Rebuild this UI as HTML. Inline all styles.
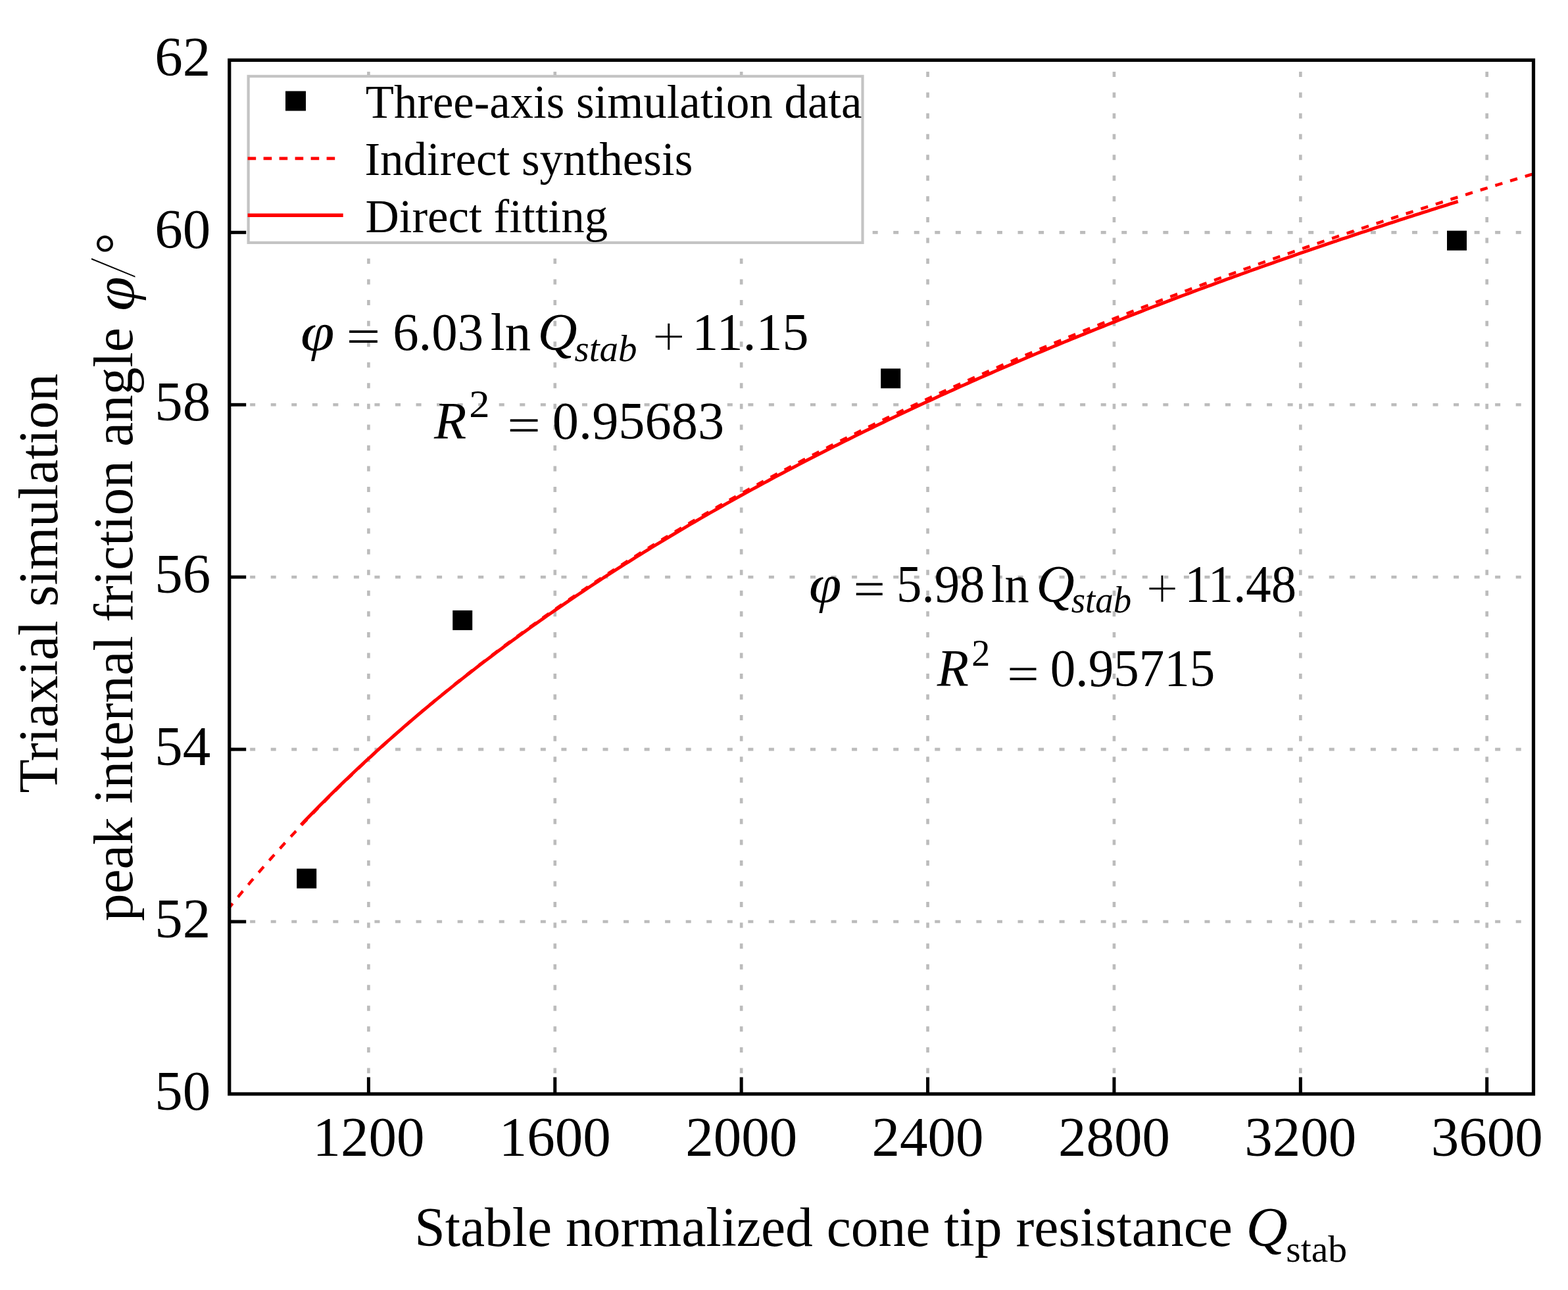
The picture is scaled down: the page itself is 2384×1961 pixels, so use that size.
<!DOCTYPE html>
<html><head><meta charset="utf-8"><title>Triaxial simulation peak internal friction angle vs Q_stab</title>
<style>
html,body{margin:0;padding:0;background:#fff;}
body{width:2384px;height:1961px;overflow:hidden;}
svg{display:block;}
text{font-family:'Liberation Serif', 'Times New Roman', serif;fill:#000;}
</style></head><body>
<svg width="2384" height="1961" viewBox="0 0 2384 1961">
<rect width="2384" height="1961" fill="#fff"/>
<line x1="560.40" y1="1663.00" x2="560.40" y2="91.40" stroke="#bcbcbc" stroke-width="4.6" stroke-dasharray="8 23.55"/>
<line x1="843.78" y1="1663.00" x2="843.78" y2="91.40" stroke="#bcbcbc" stroke-width="4.6" stroke-dasharray="8 23.55"/>
<line x1="1127.17" y1="1663.00" x2="1127.17" y2="91.40" stroke="#bcbcbc" stroke-width="4.6" stroke-dasharray="8 23.55"/>
<line x1="1410.55" y1="1663.00" x2="1410.55" y2="91.40" stroke="#bcbcbc" stroke-width="4.6" stroke-dasharray="8 23.55"/>
<line x1="1693.93" y1="1663.00" x2="1693.93" y2="91.40" stroke="#bcbcbc" stroke-width="4.6" stroke-dasharray="8 23.55"/>
<line x1="1977.32" y1="1663.00" x2="1977.32" y2="91.40" stroke="#bcbcbc" stroke-width="4.6" stroke-dasharray="8 23.55"/>
<line x1="2260.70" y1="1663.00" x2="2260.70" y2="91.40" stroke="#bcbcbc" stroke-width="4.6" stroke-dasharray="8 23.55"/>
<line x1="348.6" y1="1401.07" x2="2331.5" y2="1401.07" stroke="#bcbcbc" stroke-width="4.6" stroke-dasharray="8 23.55"/>
<line x1="348.6" y1="1139.13" x2="2331.5" y2="1139.13" stroke="#bcbcbc" stroke-width="4.6" stroke-dasharray="8 23.55"/>
<line x1="348.6" y1="877.20" x2="2331.5" y2="877.20" stroke="#bcbcbc" stroke-width="4.6" stroke-dasharray="8 23.55"/>
<line x1="348.6" y1="615.27" x2="2331.5" y2="615.27" stroke="#bcbcbc" stroke-width="4.6" stroke-dasharray="8 23.55"/>
<line x1="348.6" y1="353.33" x2="2331.5" y2="353.33" stroke="#bcbcbc" stroke-width="4.6" stroke-dasharray="8 23.55"/>
<path transform="scale(1,1.0614)" d="M347.863,1300.838 L352.822,1295.073 L357.781,1289.353 L362.740,1283.676 L367.699,1278.042 L372.659,1272.451 L377.618,1266.901 L382.577,1261.393 L387.536,1255.925 L392.495,1250.497 L397.455,1245.108 L402.414,1239.758 L407.373,1234.446 L412.332,1229.172 L417.291,1223.934 L422.251,1218.734 L427.210,1213.569 L432.169,1208.441 L437.128,1203.347 L442.088,1198.288 L447.047,1193.263 L452.006,1188.272 L456.965,1183.314 L461.924,1178.389 L466.884,1173.496 L471.843,1168.635 L476.802,1163.806 L481.761,1159.008 L486.720,1154.240 L491.680,1149.503 L496.639,1144.796 L501.598,1140.119 L506.557,1135.471 L511.516,1130.851 L516.476,1126.260 L521.435,1121.698 L526.394,1117.163 L531.353,1112.655 L536.312,1108.175 L541.272,1103.722 L546.231,1099.295 L551.190,1094.894 L556.149,1090.519 L561.108,1086.170 L566.068,1081.846 L571.027,1077.546 L575.986,1073.272 L580.945,1069.022 L585.904,1064.796 L590.864,1060.594 L595.823,1056.416 L600.782,1052.261 L605.741,1048.129 L610.701,1044.020 L615.660,1039.933 L620.619,1035.869 L625.578,1031.827 L630.537,1027.807 L635.497,1023.808 L640.456,1019.831 L645.415,1015.874 L650.374,1011.939 L655.333,1008.025 L660.293,1004.130 L665.252,1000.257 L670.211,996.403 L675.170,992.569 L680.129,988.755 L685.089,984.960 L690.048,981.185 L695.007,977.428 L699.966,973.691 L704.925,969.972 L709.885,966.271 L714.844,962.589 L719.803,958.925 L724.762,955.279 L729.721,951.651 L734.681,948.040 L739.640,944.447 L744.599,940.871 L749.558,937.312 L754.517,933.770 L759.477,930.245 L764.436,926.737 L769.395,923.245 L774.354,919.769 L779.314,916.310 L784.273,912.866 L789.232,909.439 L794.191,906.027 L799.150,902.630 L804.110,899.249 L809.069,895.884 L814.028,892.533 L818.987,889.198 L823.946,885.877 L828.906,882.571 L833.865,879.280 L838.824,876.003 L843.783,872.741 L848.742,869.493 L853.702,866.259 L858.661,863.039 L863.620,859.833 L868.579,856.641 L873.538,853.462 L878.498,850.297 L883.457,847.145 L888.416,844.006 L893.375,840.881 L898.334,837.769 L903.294,834.670 L908.253,831.583 L913.212,828.510 L918.171,825.449 L923.130,822.400 L928.090,819.364 L933.049,816.340 L938.008,813.329 L942.967,810.330 L947.927,807.342 L952.886,804.367 L957.845,801.403 L962.804,798.452 L967.763,795.512 L972.723,792.583 L977.682,789.666 L982.641,786.761 L987.600,783.866 L992.559,780.983 L997.519,778.111 L1002.478,775.250 L1007.437,772.400 L1012.396,769.561 L1017.355,766.733 L1022.315,763.915 L1027.274,761.108 L1032.233,758.312 L1037.192,755.526 L1042.151,752.750 L1047.111,749.985 L1052.070,747.230 L1057.029,744.485 L1061.988,741.751 L1066.947,739.026 L1071.907,736.311 L1076.866,733.606 L1081.825,730.911 L1086.784,728.226 L1091.744,725.550 L1096.703,722.884 L1101.662,720.227 L1106.621,717.580 L1111.580,714.942 L1116.540,712.314 L1121.499,709.694 L1126.458,707.084 L1131.417,704.484 L1136.376,701.892 L1141.336,699.309 L1146.295,696.735 L1151.254,694.170 L1156.213,691.614 L1161.172,689.066 L1166.132,686.527 L1171.091,683.997 L1176.050,681.476 L1181.009,678.963 L1185.968,676.458 L1190.928,673.962 L1195.887,671.474 L1200.846,668.994 L1205.805,666.523 L1210.764,664.060 L1215.724,661.605 L1220.683,659.158 L1225.642,656.719 L1230.601,654.288 L1235.560,651.865 L1240.520,649.450 L1245.479,647.043 L1250.438,644.643 L1255.397,642.251 L1260.357,639.867 L1265.316,637.490 L1270.275,635.121 L1275.234,632.760 L1280.193,630.406 L1285.153,628.059 L1290.112,625.720 L1295.071,623.388 L1300.030,621.063 L1304.989,618.746 L1309.949,616.436 L1314.908,614.133 L1319.867,611.837 L1324.826,609.548 L1329.785,607.266 L1334.745,604.991 L1339.704,602.723 L1344.663,600.462 L1349.622,598.208 L1354.581,595.961 L1359.541,593.720 L1364.500,591.486 L1369.459,589.259 L1374.418,587.038 L1379.377,584.824 L1384.337,582.617 L1389.296,580.416 L1394.255,578.222 L1399.214,576.034 L1404.173,573.852 L1409.133,571.677 L1414.092,569.508 L1419.051,567.346 L1424.010,565.190 L1428.970,563.040 L1433.929,560.896 L1438.888,558.758 L1443.847,556.627 L1448.806,554.502 L1453.766,552.382 L1458.725,550.269 L1463.684,548.161 L1468.643,546.060 L1473.602,543.965 L1478.562,541.875 L1483.521,539.791 L1488.480,537.713 L1493.439,535.641 L1498.398,533.575 L1503.358,531.514 L1508.317,529.459 L1513.276,527.410 L1518.235,525.366 L1523.194,523.328 L1528.154,521.296 L1533.113,519.269 L1538.072,517.247 L1543.031,515.231 L1547.990,513.221 L1552.950,511.215 L1557.909,509.216 L1562.868,507.221 L1567.827,505.232 L1572.786,503.249 L1577.746,501.270 L1582.705,499.297 L1587.664,497.329 L1592.623,495.366 L1597.583,493.408 L1602.542,491.456 L1607.501,489.509 L1612.460,487.566 L1617.419,485.629 L1622.379,483.697 L1627.338,481.770 L1632.297,479.847 L1637.256,477.930 L1642.215,476.018 L1647.175,474.110 L1652.134,472.208 L1657.093,470.310 L1662.052,468.417 L1667.011,466.529 L1671.971,464.646 L1676.930,462.767 L1681.889,460.893 L1686.848,459.024 L1691.807,457.160 L1696.767,455.300 L1701.726,453.445 L1706.685,451.594 L1711.644,449.748 L1716.603,447.907 L1721.563,446.070 L1726.522,444.238 L1731.481,442.410 L1736.440,440.587 L1741.399,438.768 L1746.359,436.953 L1751.318,435.143 L1756.277,433.338 L1761.236,431.536 L1766.196,429.739 L1771.155,427.947 L1776.114,426.159 L1781.073,424.375 L1786.032,422.595 L1790.992,420.820 L1795.951,419.048 L1800.910,417.281 L1805.869,415.518 L1810.828,413.760 L1815.788,412.005 L1820.747,410.255 L1825.706,408.509 L1830.665,406.766 L1835.624,405.028 L1840.584,403.294 L1845.543,401.564 L1850.502,399.838 L1855.461,398.116 L1860.420,396.398 L1865.380,394.684 L1870.339,392.974 L1875.298,391.267 L1880.257,389.565 L1885.216,387.867 L1890.176,386.172 L1895.135,384.481 L1900.094,382.794 L1905.053,381.111 L1910.012,379.432 L1914.972,377.756 L1919.931,376.085 L1924.890,374.417 L1929.849,372.752 L1934.809,371.092 L1939.768,369.435 L1944.727,367.782 L1949.686,366.132 L1954.645,364.487 L1959.605,362.844 L1964.564,361.206 L1969.523,359.571 L1974.482,357.939 L1979.441,356.311 L1984.401,354.687 L1989.360,353.066 L1994.319,351.449 L1999.278,349.835 L2004.237,348.225 L2009.197,346.618 L2014.156,345.015 L2019.115,343.415 L2024.074,341.819 L2029.033,340.226 L2033.993,338.636 L2038.952,337.050 L2043.911,335.467 L2048.870,333.888 L2053.829,332.312 L2058.789,330.739 L2063.748,329.169 L2068.707,327.603 L2073.666,326.040 L2078.625,324.481 L2083.585,322.924 L2088.544,321.371 L2093.503,319.821 L2098.462,318.275 L2103.422,316.731 L2108.381,315.191 L2113.340,313.654 L2118.299,312.120 L2123.258,310.589 L2128.218,309.062 L2133.177,307.537 L2138.136,306.016 L2143.095,304.498 L2148.054,302.983 L2153.014,301.471 L2157.973,299.962 L2162.932,298.456 L2167.891,296.953 L2172.850,295.453 L2177.810,293.956 L2182.769,292.462 L2187.728,290.971 L2192.687,289.483 L2197.646,287.998 L2202.606,286.516 L2207.565,285.037 L2212.524,283.561 L2217.483,282.088 L2222.442,280.618 L2227.402,279.151 L2232.361,277.686 L2237.320,276.225 L2242.279,274.766 L2247.238,273.310 L2252.198,271.857 L2257.157,270.407 L2262.116,268.960 L2267.075,267.515 L2272.035,266.073 L2276.994,264.634 L2281.953,263.198 L2286.912,261.765 L2291.871,260.334 L2296.831,258.906 L2301.790,257.481 L2306.749,256.059 L2311.708,254.639 L2316.667,253.222 L2321.627,251.807 L2326.586,250.396 L2331.545,248.987" fill="none" stroke="#ff0000" stroke-width="4.3" stroke-dasharray="11.4 12.2" stroke-dashoffset="2.36"/>
<path d="M457.67,1253.92 L463.54,1247.80 L469.40,1241.73 L475.26,1235.70 L481.13,1229.72 L486.99,1223.79 L492.86,1217.90 L498.72,1212.05 L504.58,1206.25 L510.45,1200.49 L516.31,1194.77 L522.17,1189.09 L528.04,1183.46 L533.90,1177.86 L539.76,1172.30 L545.63,1166.79 L551.49,1161.31 L557.36,1155.87 L563.22,1150.47 L569.08,1145.10 L574.95,1139.77 L580.81,1134.48 L586.67,1129.22 L592.54,1124.00 L598.40,1118.81 L604.27,1113.66 L610.13,1108.54 L615.99,1103.45 L621.86,1098.40 L627.72,1093.38 L633.58,1088.39 L639.45,1083.43 L645.31,1078.50 L651.17,1073.61 L657.04,1068.74 L662.90,1063.91 L668.77,1059.10 L674.63,1054.32 L680.49,1049.58 L686.36,1044.86 L692.22,1040.17 L698.08,1035.50 L703.95,1030.87 L709.81,1026.26 L715.68,1021.68 L721.54,1017.13 L727.40,1012.60 L733.27,1008.10 L739.13,1003.62 L744.99,999.17 L750.86,994.74 L756.72,990.34 L762.58,985.97 L768.45,981.61 L774.31,977.29 L780.18,972.98 L786.04,968.70 L791.90,964.44 L797.77,960.21 L803.63,956.00 L809.49,951.81 L815.36,947.64 L821.22,943.50 L827.08,939.38 L832.95,935.28 L838.81,931.20 L844.68,927.14 L850.54,923.10 L856.40,919.08 L862.27,915.09 L868.13,911.11 L873.99,907.15 L879.86,903.22 L885.72,899.30 L891.59,895.40 L897.45,891.53 L903.31,887.67 L909.18,883.83 L915.04,880.01 L920.90,876.20 L926.77,872.42 L932.63,868.65 L938.49,864.91 L944.36,861.18 L950.22,857.46 L956.09,853.77 L961.95,850.09 L967.81,846.43 L973.68,842.79 L979.54,839.16 L985.40,835.55 L991.27,831.96 L997.13,828.38 L1002.99,824.82 L1008.86,821.28 L1014.72,817.75 L1020.59,814.24 L1026.45,810.74 L1032.31,807.26 L1038.18,803.79 L1044.04,800.34 L1049.90,796.91 L1055.77,793.49 L1061.63,790.08 L1067.50,786.69 L1073.36,783.31 L1079.22,779.95 L1085.09,776.60 L1090.95,773.27 L1096.81,769.95 L1102.68,766.65 L1108.54,763.35 L1114.40,760.08 L1120.27,756.81 L1126.13,753.56 L1132.00,750.33 L1137.86,747.10 L1143.72,743.89 L1149.59,740.70 L1155.45,737.51 L1161.31,734.34 L1167.18,731.18 L1173.04,728.04 L1178.91,724.90 L1184.77,721.78 L1190.63,718.67 L1196.50,715.58 L1202.36,712.49 L1208.22,709.42 L1214.09,706.36 L1219.95,703.32 L1225.81,700.28 L1231.68,697.26 L1237.54,694.24 L1243.41,691.24 L1249.27,688.25 L1255.13,685.27 L1261.00,682.31 L1266.86,679.35 L1272.72,676.41 L1278.59,673.47 L1284.45,670.55 L1290.31,667.64 L1296.18,664.74 L1302.04,661.85 L1307.91,658.97 L1313.77,656.10 L1319.63,653.24 L1325.50,650.39 L1331.36,647.55 L1337.22,644.73 L1343.09,641.91 L1348.95,639.10 L1354.82,636.30 L1360.68,633.52 L1366.54,630.74 L1372.41,627.97 L1378.27,625.21 L1384.13,622.46 L1390.00,619.73 L1395.86,617.00 L1401.72,614.28 L1407.59,611.57 L1413.45,608.87 L1419.32,606.17 L1425.18,603.49 L1431.04,600.82 L1436.91,598.15 L1442.77,595.50 L1448.63,592.85 L1454.50,590.22 L1460.36,587.59 L1466.22,584.97 L1472.09,582.36 L1477.95,579.75 L1483.82,577.16 L1489.68,574.58 L1495.54,572.00 L1501.41,569.43 L1507.27,566.87 L1513.13,564.32 L1519.00,561.78 L1524.86,559.24 L1530.73,556.72 L1536.59,554.20 L1542.45,551.69 L1548.32,549.18 L1554.18,546.69 L1560.04,544.20 L1565.91,541.72 L1571.77,539.25 L1577.63,536.79 L1583.50,534.33 L1589.36,531.89 L1595.23,529.45 L1601.09,527.01 L1606.95,524.59 L1612.82,522.17 L1618.68,519.76 L1624.54,517.36 L1630.41,514.96 L1636.27,512.58 L1642.14,510.20 L1648.00,507.82 L1653.86,505.46 L1659.73,503.10 L1665.59,500.74 L1671.45,498.40 L1677.32,496.06 L1683.18,493.73 L1689.04,491.41 L1694.91,489.09 L1700.77,486.78 L1706.64,484.47 L1712.50,482.18 L1718.36,479.89 L1724.23,477.60 L1730.09,475.33 L1735.95,473.06 L1741.82,470.79 L1747.68,468.54 L1753.54,466.28 L1759.41,464.04 L1765.27,461.80 L1771.14,459.57 L1777.00,457.35 L1782.86,455.13 L1788.73,452.91 L1794.59,450.71 L1800.45,448.51 L1806.32,446.31 L1812.18,444.13 L1818.05,441.94 L1823.91,439.77 L1829.77,437.60 L1835.64,435.43 L1841.50,433.28 L1847.36,431.13 L1853.23,428.98 L1859.09,426.84 L1864.95,424.71 L1870.82,422.58 L1876.68,420.45 L1882.55,418.34 L1888.41,416.23 L1894.27,414.12 L1900.14,412.02 L1906.00,409.93 L1911.86,407.84 L1917.73,405.75 L1923.59,403.68 L1929.45,401.61 L1935.32,399.54 L1941.18,397.48 L1947.05,395.42 L1952.91,393.37 L1958.77,391.33 L1964.64,389.29 L1970.50,387.25 L1976.36,385.22 L1982.23,383.20 L1988.09,381.18 L1993.96,379.17 L1999.82,377.16 L2005.68,375.16 L2011.55,373.16 L2017.41,371.16 L2023.27,369.18 L2029.14,367.19 L2035.00,365.22 L2040.86,363.24 L2046.73,361.27 L2052.59,359.31 L2058.46,357.35 L2064.32,355.40 L2070.18,353.45 L2076.05,351.51 L2081.91,349.57 L2087.77,347.64 L2093.64,345.71 L2099.50,343.78 L2105.37,341.86 L2111.23,339.95 L2117.09,338.04 L2122.96,336.13 L2128.82,334.23 L2134.68,332.33 L2140.55,330.44 L2146.41,328.55 L2152.27,326.67 L2158.14,324.79 L2164.00,322.92 L2169.87,321.05 L2175.73,319.19 L2181.59,317.32 L2187.46,315.47 L2193.32,313.62 L2199.18,311.77 L2205.05,309.93 L2210.91,308.09 L2216.77,306.25" fill="none" stroke="#ff0000" stroke-width="5.0"/>
<rect x="451.20" y="1320.50" width="30" height="30" fill="#000"/>
<rect x="688.20" y="927.90" width="30" height="30" fill="#000"/>
<rect x="1339.20" y="560.30" width="30" height="30" fill="#000"/>
<rect x="2200.00" y="350.70" width="30" height="30" fill="#000"/>
<line x1="560.40" y1="1663" x2="560.40" y2="1637.5" stroke="#000" stroke-width="5"/>
<line x1="843.78" y1="1663" x2="843.78" y2="1637.5" stroke="#000" stroke-width="5"/>
<line x1="1127.17" y1="1663" x2="1127.17" y2="1637.5" stroke="#000" stroke-width="5"/>
<line x1="1410.55" y1="1663" x2="1410.55" y2="1637.5" stroke="#000" stroke-width="5"/>
<line x1="1693.93" y1="1663" x2="1693.93" y2="1637.5" stroke="#000" stroke-width="5"/>
<line x1="1977.32" y1="1663" x2="1977.32" y2="1637.5" stroke="#000" stroke-width="5"/>
<line x1="2260.70" y1="1663" x2="2260.70" y2="1637.5" stroke="#000" stroke-width="5"/>
<line x1="348.7" y1="1401.07" x2="374.2" y2="1401.07" stroke="#000" stroke-width="5"/>
<line x1="348.7" y1="1139.13" x2="374.2" y2="1139.13" stroke="#000" stroke-width="5"/>
<line x1="348.7" y1="877.20" x2="374.2" y2="877.20" stroke="#000" stroke-width="5"/>
<line x1="348.7" y1="615.27" x2="374.2" y2="615.27" stroke="#000" stroke-width="5"/>
<line x1="348.7" y1="353.33" x2="374.2" y2="353.33" stroke="#000" stroke-width="5"/>
<rect x="348.75" y="91.4" width="1982.75" height="1571.6" fill="none" stroke="#000" stroke-width="5.2"/>
<rect x="377.6" y="115.9" width="933.9" height="253" fill="#fff" stroke="#c4c4c4" stroke-width="4.2"/>
<rect x="434" y="138.5" width="31" height="30" fill="#000"/>
<line x1="376.6" y1="240.9" x2="509.6" y2="240.9" stroke="#ff0000" stroke-width="4.8" stroke-dasharray="12.6 11.4"/>
<line x1="376.6" y1="327.2" x2="521.7" y2="327.2" stroke="#ff0000" stroke-width="5.5"/>
<text x="555.72" y="179.00" font-size="71" textLength="754.75" lengthAdjust="spacingAndGlyphs">Three-axis simulation data</text>
<text x="554.43" y="265.80" font-size="71">Indirect synthesis</text>
<text x="555.45" y="353.20" font-size="71">Direct fitting</text>
<text x="320.3" y="1686.80" font-size="85" text-anchor="end">50</text>
<text x="320.3" y="1424.87" font-size="85" text-anchor="end">52</text>
<text x="320.3" y="1162.93" font-size="85" text-anchor="end">54</text>
<text x="320.3" y="901.00" font-size="85" text-anchor="end">56</text>
<text x="320.3" y="639.07" font-size="85" text-anchor="end">58</text>
<text x="320.3" y="377.13" font-size="85" text-anchor="end">60</text>
<text x="320.3" y="115.20" font-size="85" text-anchor="end">62</text>
<text x="560.40" y="1756.8" font-size="85" text-anchor="middle">1200</text>
<text x="843.78" y="1756.8" font-size="85" text-anchor="middle">1600</text>
<text x="1127.17" y="1756.8" font-size="85" text-anchor="middle">2000</text>
<text x="1410.55" y="1756.8" font-size="85" text-anchor="middle">2400</text>
<text x="1693.93" y="1756.8" font-size="85" text-anchor="middle">2800</text>
<text x="1977.32" y="1756.8" font-size="85" text-anchor="middle">3200</text>
<text x="2260.70" y="1756.8" font-size="85" text-anchor="middle">3600</text>
<text x="457.13" y="531.80" font-size="80" font-style="italic" textLength="51.52" lengthAdjust="spacingAndGlyphs">φ</text>
<text x="526.42" y="535.80" font-size="75.0" textLength="51.87" lengthAdjust="spacingAndGlyphs">=</text>
<text x="597.21" y="531.80" font-size="80" textLength="137.86" lengthAdjust="spacingAndGlyphs">6.03</text>
<text x="745.82" y="531.60" font-size="80" textLength="61.27" lengthAdjust="spacingAndGlyphs">ln</text>
<text x="817.61" y="531.70" font-size="80" font-style="italic" textLength="60.14" lengthAdjust="spacingAndGlyphs">Q</text>
<text x="873.50" y="548.90" font-size="58" font-style="italic" textLength="95.12" lengthAdjust="spacingAndGlyphs">stab</text>
<text x="991.64" y="540.55" font-size="88.7" textLength="50.54" lengthAdjust="spacingAndGlyphs" stroke="#fff" stroke-width="1.4">+</text>
<text x="1052.37" y="531.70" font-size="80" textLength="177.30" lengthAdjust="spacingAndGlyphs">11.15</text>
<text x="660.03" y="667.00" font-size="80" font-style="italic" textLength="49.31" lengthAdjust="spacingAndGlyphs">R</text>
<text x="713.35" y="634.00" font-size="60" textLength="31.31" lengthAdjust="spacingAndGlyphs">2</text>
<text x="771.33" y="670.90" font-size="75.0" textLength="50.66" lengthAdjust="spacingAndGlyphs">=</text>
<text x="839.84" y="667.00" font-size="80" textLength="261.30" lengthAdjust="spacingAndGlyphs">0.95683</text>
<text x="1230.14" y="914.50" font-size="80" font-style="italic" textLength="49.40" lengthAdjust="spacingAndGlyphs">φ</text>
<text x="1297.62" y="920.30" font-size="75.0" textLength="48.48" lengthAdjust="spacingAndGlyphs">=</text>
<text x="1363.03" y="914.50" font-size="80" textLength="134.49" lengthAdjust="spacingAndGlyphs">5.98</text>
<text x="1506.91" y="914.50" font-size="80" textLength="57.71" lengthAdjust="spacingAndGlyphs">ln</text>
<text x="1575.45" y="914.50" font-size="80" font-style="italic" textLength="58.25" lengthAdjust="spacingAndGlyphs">Q</text>
<text x="1628.73" y="931.40" font-size="58" font-style="italic" textLength="91.53" lengthAdjust="spacingAndGlyphs">stab</text>
<text x="1742.33" y="923.85" font-size="88.7" textLength="49.45" lengthAdjust="spacingAndGlyphs" stroke="#fff" stroke-width="1.4">+</text>
<text x="1801.27" y="914.50" font-size="80" textLength="169.81" lengthAdjust="spacingAndGlyphs">11.48</text>
<text x="1424.82" y="1042.60" font-size="80" font-style="italic" textLength="48.19" lengthAdjust="spacingAndGlyphs">R</text>
<text x="1477.33" y="1012.20" font-size="57" textLength="28.06" lengthAdjust="spacingAndGlyphs">2</text>
<text x="1531.32" y="1048.80" font-size="75.0" textLength="48.48" lengthAdjust="spacingAndGlyphs">=</text>
<text x="1596.87" y="1043.00" font-size="80" textLength="250.34" lengthAdjust="spacingAndGlyphs">0.95715</text>
<text x="630.21" y="1894.40" font-size="84" textLength="1243.69" lengthAdjust="spacingAndGlyphs">Stable normalized cone tip resistance</text>
<text x="1894.57" y="1894.40" font-size="84" font-style="italic" textLength="63.26" lengthAdjust="spacingAndGlyphs">Q</text>
<text x="1955.24" y="1917.90" font-size="58" textLength="92.75" lengthAdjust="spacingAndGlyphs">stab</text>
<text transform="rotate(-90)" x="-1205.61" y="86.90" font-size="84" textLength="637.47" lengthAdjust="spacingAndGlyphs">Triaxial simulation</text>
<text transform="rotate(-90)" x="-1400.25" y="200.70" font-size="84" textLength="902.14" lengthAdjust="spacingAndGlyphs">peak internal friction angle</text>
<text transform="rotate(-90)" x="-472.82" y="202.80" font-size="86" font-style="italic" textLength="52.41" lengthAdjust="spacingAndGlyphs">φ</text>
<text transform="rotate(-90)" x="-424.3" y="205.9" font-size="104.6" textLength="34.3" lengthAdjust="spacingAndGlyphs" stroke="#fff" stroke-width="3">/</text>
<text transform="rotate(-90)" x="-386.7" y="202.0" font-size="82">°</text>
</svg>
</body></html>
